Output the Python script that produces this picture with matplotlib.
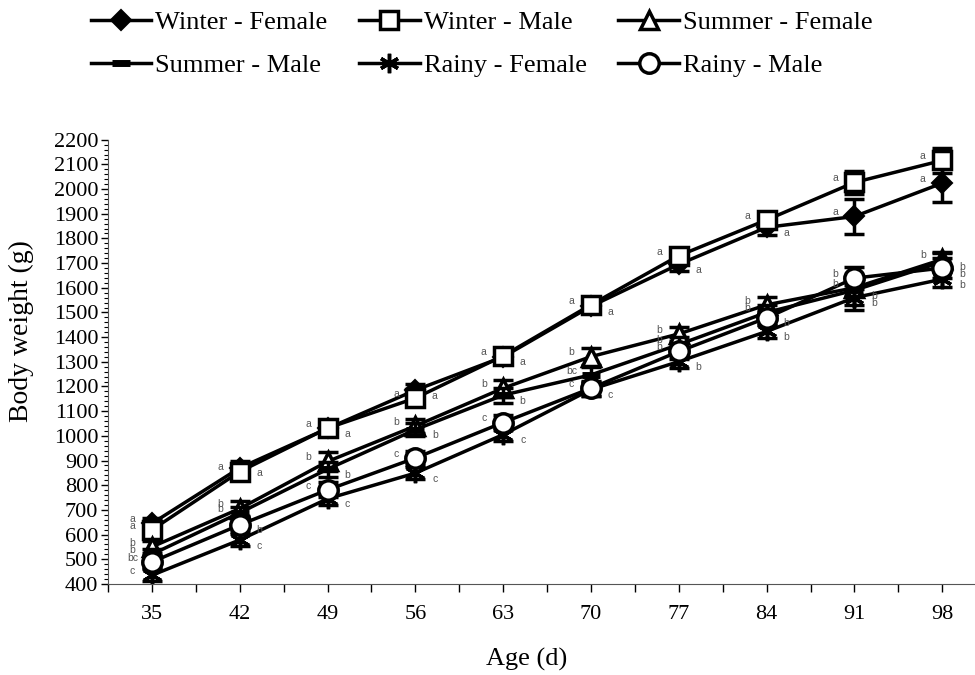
import matplotlib
matplotlib.use('Agg')
import matplotlib.pyplot as plt
from matplotlib.ticker import FixedLocator, MultipleLocator

## Data
ages = [35, 42, 49, 56, 63, 70, 77, 84, 91, 98]
names = ['Winter - Female', 'Winter - Male', 'Summer - Female',
         'Summer - Male', 'Rainy - Female', 'Rainy - Male']

winter_female = [645, 870, 1030, 1185, 1320, 1525, 1695, 1845, 1889, 2024]
winter_male = [619, 855, 1031, 1153, 1324, 1531, 1730, 1875, 2027, 2116]
summer_female = [550, 705, 896, 1040, 1193, 1321, 1413, 1531, 1600, 1715]
summer_male = [520, 688, 865, 1025, 1165, 1247, 1370, 1500, 1590, 1705]
rainy_female = [435, 578, 745, 849, 1005, 1188, 1301, 1423, 1560, 1635]
rainy_male = [489, 639, 781, 910, 1054, 1193, 1342, 1478, 1639, 1680]

# standard errors (bar half-lengths)
se_winter_female = [20, 30, 20, 25, 20, 20, 25, 30, 70, 75]
se_winter_male = [20, 25, 20, 25, 20, 20, 25, 25, 45, 50]
se_summer_female = [25, 30, 40, 30, 35, 35, 30, 30, 35, 30]
se_summer_male = [20, 25, 30, 25, 30, 30, 30, 30, 60, 35]
se_rainy_female = [25, 25, 25, 25, 25, 25, 25, 25, 50, 30]
se_rainy_male = [25, 30, 30, 30, 30, 30, 30, 30, 45, 40]

# significance letters
let_winter_female = ['a'] * 10
let_winter_male = ['a'] * 10
let_summer_female = ['b'] * 10
let_summer_male = ['b', 'b', 'b', 'b', 'b', 'bc', 'b', 'b', 'b', 'b']
let_rainy_female = ['c', 'c', 'c', 'c', 'c', 'c', 'b', 'b', 'b', 'b']
let_rainy_male = ['bc', 'b', 'c', 'c', 'c', 'c', 'b', 'b', 'b', 'b']

values = [winter_female, winter_male, summer_female, summer_male, rainy_female, rainy_male]
errors = [se_winter_female, se_winter_male, se_summer_female, se_summer_male,
          se_rainy_female, se_rainy_male]
letters = [let_winter_female, let_winter_male, let_summer_female, let_summer_male,
           let_rainy_female, let_rainy_male]

## Styles
styles = [
    dict(marker='D', markersize=10, markerfacecolor='black', markeredgewidth=1.5),
    dict(marker='s', markersize=13, markerfacecolor='white', markeredgewidth=2.5),
    dict(marker='^', markersize=13, markerfacecolor='white', markeredgewidth=2.5),
    dict(marker='_', markersize=13, markeredgewidth=5),
    dict(marker=(6, 2, 0), markersize=14, markeredgewidth=2.5),
    dict(marker='o', markersize=14, markerfacecolor='white', markeredgewidth=2.5),
]
# which side of the marker the letter sits on
sides = ['LRRRRRRRLL', 'LLLLLLLLLL', 'LLLLLLLLLL',
         'LLRRRLLLRR', 'LRRRRRRRRR', 'LRLLLLLRLR']

serif = 'Liberation Serif'
fig = plt.figure(figsize=(9.75, 6.75), dpi=100)
ax = fig.add_axes([0.1108, 0.135, 0.8892, 0.658])

x = list(range(len(ages)))
handles = []
for k in range(len(names)):
    z = 2 + k * 0.1
    ax.errorbar(x, values[k], yerr=errors[k], fmt='none', ecolor='black',
                elinewidth=2.5, capsize=7, capthick=2.5, zorder=z)
    h, = ax.plot(x, values[k], color='black', lw=2.5, markeredgecolor='black',
                 label=names[k], zorder=z + 0.05, **styles[k])
    handles.append(h)
    for i, v in enumerate(values[k]):
        off = (-14, 3) if sides[k][i] == 'L' else (14, -4)
        ax.annotate(letters[k][i], (i, v), xytext=off, textcoords='offset points',
                    ha='center', va='center', fontsize=7.5, color='#555555',
                    family='Liberation Sans', zorder=10)

ax.set_xlim(-0.5, 9.373)
ax.set_ylim(400, 2200)
ax.set_xticks(x)
ax.set_xticklabels([str(a) for a in ages], family=serif, fontsize=16)
ax.xaxis.set_minor_locator(FixedLocator([i + 0.5 for i in range(-1, 10)]))
ax.tick_params(axis='x', which='both', direction='out', length=6, width=1, pad=9)
ax.yaxis.set_major_locator(MultipleLocator(100))
ax.yaxis.set_minor_locator(MultipleLocator(20))
ax.tick_params(axis='y', which='major', direction='out', length=5, width=1, pad=2)
ax.tick_params(axis='y', which='minor', direction='out', length=3, width=0.8)
for t in ax.get_yticklabels():
    t.set_family(serif)
    t.set_fontsize(16)

for s in ['top', 'right']:
    ax.spines[s].set_visible(False)
for s in ['left', 'bottom']:
    ax.spines[s].set_color('#555555')

ax.set_xlabel('Age (d)', family=serif, fontsize=19)
ax.set_ylabel('Body weight (g)', family=serif, fontsize=20)
ax.xaxis.set_label_coords(0.483, -0.145)
ax.yaxis.set_label_coords(-0.085, 0.57)

# legend is filled column by column, so reorder to read row by row
order = [0, 3, 1, 4, 2, 5]
fig.legend(handles=[handles[i] for i in order], ncol=3, loc='upper left',
           bbox_to_anchor=(0.082, 1.0), frameon=False,
           prop={'family': serif, 'size': 19}, handlelength=2.3,
           handletextpad=0.15, columnspacing=1.2, labelspacing=0.75,
           borderaxespad=0.2, borderpad=0.2)

fig.savefig('out.png', dpi=100)
